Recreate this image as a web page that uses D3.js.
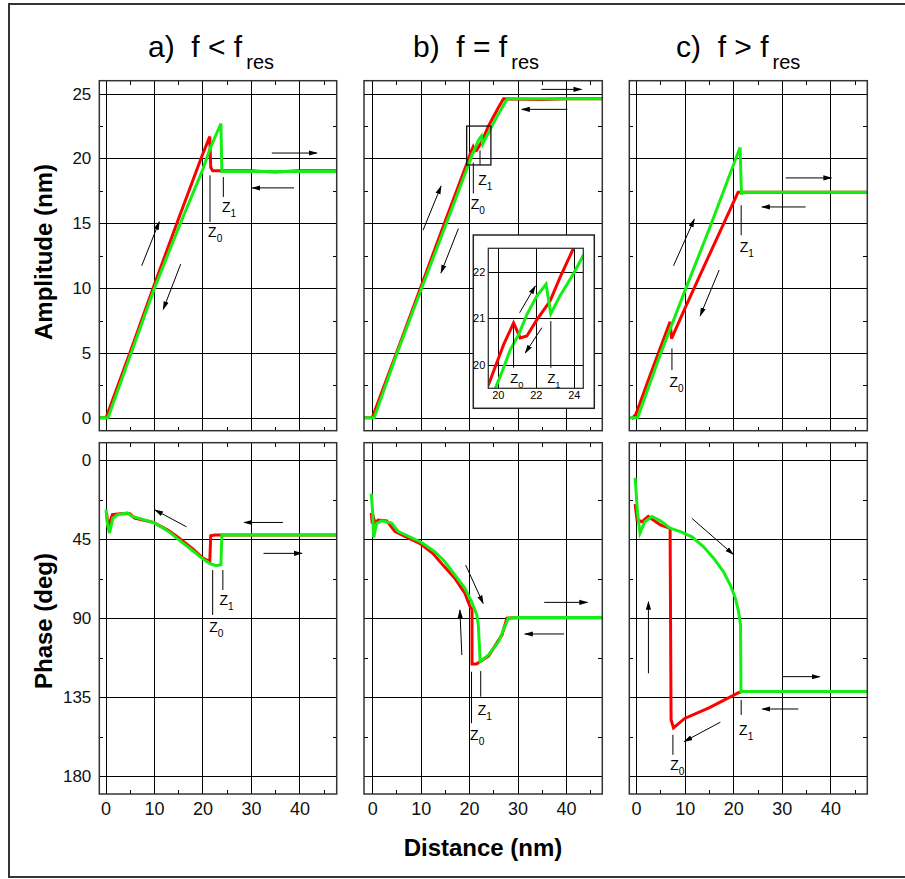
<!DOCTYPE html>
<html><head><meta charset="utf-8">
<script src="https://cdn.jsdelivr.net/npm/d3@7"></script>
<style>
body{margin:0;background:#fff;}
svg{display:block;font-family:"Liberation Sans",Arial,sans-serif;}
</style></head><body>
<svg id="chart" width="905" height="879"></svg>
<script>
// ---------------- data ----------------
const columnLabels = ["a)", "b)", "c)"];
const columnRelations = ["<", "=", ">"];
const xTicks = [0, 10, 20, 30, 40];
const xMinorTicks = [5, 15, 25, 35, 45];
const ampTicks = [0, 5, 10, 15, 20, 25];
const ampMinorTicks = [2.5, 7.5, 12.5, 17.5, 22.5];
const phaseTicks = [0, 45, 90, 135, 180];
const phaseMinorTicks = [22.5, 67.5, 112.5, 157.5];
const xDomains = [[-1.3, 47.7], [-1.7, 47.5], [-1.4, 47.6]];
const ampDomain = [-1, 26];
const phaseDomain = [-10, 190];

// amplitude (nm) vs distance (nm)
const ampRedA = [[-1.3,0],[0.1,0],[5,5.0],[10,10.2],[15,15.3],[20,20.3],[21.5,21.7],[21.7,19.3],[22.1,19.05],[30,19.05],[35,18.95],[40,19.05],[47.7,19.05]];
const ampGreenA = [[-1.3,0],[0.5,0],[5,4.7],[10,9.9],[15,14.6],[20,19.1],[21.5,20.7],[23.8,22.7],[24.0,19.0],[47.7,19.0]];
const ampRedB = [[-1.7,0],[0,0],[5,5.0],[10,10.05],[15,15.1],[19.58,19.65],[20.31,20.44],[20.83,20.9],[21.18,20.58],[21.53,20.62],[22.06,20.97],[22.75,21.37],[23.27,21.87],[23.96,22.48],[25,23.2],[26,23.9],[27.1,24.6],[35,24.55],[40,24.6],[47.5,24.6]];
const ampGreenB = [[-1.7,0],[0.4,0],[5,4.85],[10,9.8],[15,14.7],[19.88,19.51],[20.23,19.86],[20.66,20.33],[21.1,20.65],[21.53,21.08],[22.06,21.48],[22.54,21.73],[22.79,21.1],[23.27,21.48],[23.96,21.94],[24.49,22.34],[26,23.4],[27.9,24.6],[47.5,24.6]];
const ampRedC = [[-0.9,-0.1],[0,0.3],[3,3.4],[7.0,7.4],[7.3,6.1],[10,8.4],[15,12.5],[21.0,17.4],[47.6,17.4]];
const ampGreenC = [[-1.4,0],[0.3,0],[5,4.9],[10,9.75],[15,14.5],[21.4,20.85],[21.7,17.2],[21.8,17.4],[47.6,17.4]];

// phase (deg) vs distance (nm)
const phaseRedA = [[0.2,30],[0.5,38],[0.9,35],[1.4,31],[3,30.5],[5,30.5],[6,33],[10,35.5],[13,40],[15,44],[18,50.5],[20,55.5],[21.5,57.7],[21.7,43],[22.5,42.5],[47.7,42.5]];
const phaseGreenA = [[0.1,28],[0.3,35],[0.8,41.5],[1.5,33],[2.5,31],[4.5,30],[5.5,32],[10,35.5],[13,40.5],[15,45],[18,51.5],[20,56],[21.5,58.8],[22.8,60],[23.8,59.5],[24.0,42.5],[47.7,42.5]];
const phaseRedB = [[-0.2,30],[0,36],[0.3,33],[0.6,36],[1.2,34],[3,34.5],[4.7,40.6],[9.9,47.4],[12.5,53],[14.6,59.7],[17,67],[19.15,75.8],[20.2,83.4],[20.6,84.5],[20.6,116],[21.5,116],[22.3,114.6],[24,111.5],[26.8,99.4],[27.8,89.9],[30,89.6],[47.5,89.6]];
const phaseGreenB = [[-0.2,19],[0.1,30],[0.3,44],[0.9,36],[1.9,34.5],[4,35.8],[5.4,40.6],[10.2,46.8],[12.95,52.1],[15.0,57.8],[17.1,65.4],[19.15,72.9],[20.5,80.5],[21.6,88.1],[21.9,93.8],[22.3,114.6],[24,110.8],[26.1,103.2],[28.1,89.9],[30,89.5],[47.5,89.5]];
const phaseRedC = [[-0.2,25],[0.2,34],[1.2,35],[2.5,32],[5,36.8],[7,38.7],[7.2,147.7],[7.7,152.4],[10,147],[15,141],[21.2,132.2],[22,131.6]];
const phaseGreenC = [[-0.2,10],[0.3,30],[0.8,41.5],[1.8,35],[3.25,32],[5,34.5],[7,38.7],[9.1,40.6],[11.5,43.6],[13.9,49.3],[16.0,55.9],[18.0,63.5],[19.4,71.1],[20.45,78.6],[21.1,86.2],[21.5,93.8],[21.6,131.6],[47.6,131.6]];

// annotation arrows [x1, y1, x2 (head), y2 (head)] in data units
const ampArrows = [
  [[34.3,20.42,43.6,20.42],[38.9,17.73,30.3,17.73],[7.44,11.72,11.07,15.11],[15.5,11.85,11.9,8.36]],
  [[34.9,25.33,43.2,25.33],[40.3,23.79,30.9,23.79],[10.5,14.47,14.2,17.86],[17.8,14.6,14.2,11.18]],
  [[30.8,18.5,40.2,18.5],[34.9,16.26,25.9,16.26],[7.7,11.72,11.98,15.32],[17.1,11.39,13.2,7.87]]
];
const phaseArrows = [
  [[16.7,37.9,10.2,28.3],[36.6,35.4,28.6,35.4],[32.6,53.0,40.5,53.0]],
  [[19.3,59.7,22.9,81.5],[18.5,110.9,18.1,85.3],[35.5,80.9,44.4,80.9],[39.6,98.9,31.5,98.9]],
  [[11.5,33.1,20.0,53.6],[2.54,121.3,2.54,80.6],[30.1,123.2,37.8,123.2],[33.4,141.6,26.0,141.6],[17.36,149.1,9.92,160.1]]
];
// Z markers: [x, y1, y2, labelX, labelY, subscript]
const ampMarkers = [
  [[24.3,18.57,17.03,24.0,15.88,"1"],[21.55,18.7,15.1,21.15,13.95,"0"]],
  [[22.25,20.63,19.48,21.9,17.93,"1"],[20.87,19.68,17.3,20.33,16.09,"0"]],
  [[21.63,16.39,14.08,21.34,12.8,"1"],[7.38,5.35,3.68,6.88,2.4,"0"]]
];
const phaseMarkers = [
  [[24.2,62.5,73.9,23.5,82.4,"1"],[22.1,62.5,88.1,21.4,97.6,"0"]],
  [[22.4,120,134.6,21.77,145,"1"],[20.5,120.4,149.7,20.2,159.2,"0"]],
  [[21.63,136.4,145,21.2,156.3,"1"],[7.58,156.3,167.7,7.02,176.2,"0"]]
];

// inset of panel b
const insetXDomain = [19.5, 24.5];
const insetYDomain = [19.5, 22.5];
const insetXTicks = [20, 22, 24];
const insetYTicks = [20, 21, 22];
const insetArrows = [[21.15,21.12,21.97,21.69],[22.32,20.8,21.45,20.26]];
const insetMarkers = [[20.83,20.87,19.94,20.66,19.61,"0"],[22.79,20.94,19.94,22.61,19.61,"1"]];

// ---------------- drawing ----------------
const ampRed = [ampRedA, ampRedB, ampRedC];
const ampGreen = [ampGreenA, ampGreenB, ampGreenC];
const phaseRed = [phaseRedA, phaseRedB, phaseRedC];
const phaseGreen = [phaseGreenA, phaseGreenB, phaseGreenC];

const RED = "#ff0000", GREEN = "#14ee14";
const colLeft = [99.3, 364, 629.3];
const colWidth = [237.4, 238.3, 238];
const rowTop = [80.7, 442.7];
const rowHeight = [350, 351.3];

const svg = d3.select("#chart");
const defs = svg.append("defs");
defs.append("marker").attr("id","arr").attr("viewBox","0 -4 9 8")
  .attr("refX",8).attr("refY",0).attr("markerWidth",9).attr("markerHeight",8)
  .attr("markerUnits","userSpaceOnUse").attr("orient","auto")
  .append("path").attr("d","M0,-2.6L9,0L0,2.6Z").attr("fill","#000");

// outer border
svg.append("rect").attr("x",9).attr("y",4).attr("width",1000).attr("height",873)
  .attr("fill","none").attr("stroke","#333").attr("stroke-width",2);

function styleAxis(g, color, width) {
  g.select(".domain").remove();
  g.selectAll(".tick line").attr("stroke", color).attr("stroke-width", width).attr("shape-rendering","crispEdges");
}

function drawMarker(g, x, y, m, fs) {
  g.append("line").attr("x1",x(m[0])).attr("x2",x(m[0])).attr("y1",y(m[1])).attr("y2",y(m[2]))
    .attr("stroke","#000").attr("stroke-width",1);
  const t = g.append("text").attr("x",x(m[3])).attr("y",y(m[4])).attr("font-size",fs).attr("fill","#000").text("Z");
  t.append("tspan").attr("dy",fs*0.35).attr("font-size",fs*0.72).text(m[5]);
}
function drawArrow(g, x, y, a) {
  g.append("line").attr("x1",x(a[0])).attr("y1",y(a[1])).attr("x2",x(a[2])).attr("y2",y(a[3]))
    .attr("stroke","#000").attr("stroke-width",1).attr("marker-end","url(#arr)");
}

let clipId = 0;
function panel(c, r) {
  const left = colLeft[c], width = colWidth[c], top = rowTop[r], height = rowHeight[r];
  const x = d3.scaleLinear().domain(xDomains[c]).range([left, left + width]);
  const y = r === 0
    ? d3.scaleLinear().domain(ampDomain).range([top + height, top])
    : d3.scaleLinear().domain(phaseDomain).range([top, top + height]);
  const yMajor = r === 0 ? ampTicks : phaseTicks;
  const yMinor = r === 0 ? ampMinorTicks : phaseMinorTicks;
  const g = svg.append("g");

  // grid
  g.append("g").attr("transform",`translate(0,${top+height})`)
    .call(d3.axisBottom(x).tickValues(xTicks).tickSize(-height).tickFormat(""))
    .call(s => styleAxis(s, "#000", 1));
  g.append("g").attr("transform",`translate(${left},0)`)
    .call(d3.axisLeft(y).tickValues(yMajor).tickSize(-width).tickFormat(""))
    .call(s => styleAxis(s, "#000", 1));
  // minor ticks (inward)
  g.append("g").attr("transform",`translate(0,${top+height})`)
    .call(d3.axisBottom(x).tickValues(xMinorTicks).tickSize(-4).tickFormat(""))
    .call(s => styleAxis(s, "#000", 1));
  g.append("g").attr("transform",`translate(0,${top})`)
    .call(d3.axisTop(x).tickValues(xMinorTicks).tickSize(-4).tickFormat(""))
    .call(s => styleAxis(s, "#000", 1));
  g.append("g").attr("transform",`translate(${left},0)`)
    .call(d3.axisLeft(y).tickValues(yMinor).tickSize(-4).tickFormat(""))
    .call(s => styleAxis(s, "#000", 1));
  g.append("g").attr("transform",`translate(${left+width},0)`)
    .call(d3.axisRight(y).tickValues(yMinor).tickSize(-4).tickFormat(""))
    .call(s => styleAxis(s, "#000", 1));

  // labels
  if (r === 1) {
    const ax = g.append("g").attr("transform",`translate(0,${top+height})`)
      .call(d3.axisBottom(x).tickValues(xTicks).tickSize(0).tickPadding(8));
    ax.select(".domain").remove();
    ax.selectAll("text").attr("font-size",18).attr("font-family","Liberation Sans, Arial, sans-serif").attr("fill","#111");
  }
  if (c === 0) {
    const ay = g.append("g").attr("transform",`translate(${left},0)`)
      .call(d3.axisLeft(y).tickValues(yMajor).tickSize(0).tickPadding(8));
    ay.select(".domain").remove();
    ay.selectAll("text").attr("font-size",17).attr("font-family","Liberation Sans, Arial, sans-serif").attr("fill","#111");
  }

  // curves
  const id = "clip" + (clipId++);
  defs.append("clipPath").attr("id", id).append("rect")
    .attr("x",left).attr("y",top).attr("width",width).attr("height",height);
  const line = d3.line().x(d => x(d[0])).y(d => y(d[1]));
  const reds = r === 0 ? ampRed[c] : phaseRed[c];
  const greens = r === 0 ? ampGreen[c] : phaseGreen[c];
  const cg = g.append("g").attr("clip-path",`url(#${id})`);
  cg.append("path").attr("d", line(reds)).attr("fill","none").attr("stroke",RED).attr("stroke-width",3);
  cg.append("path").attr("d", line(greens)).attr("fill","none").attr("stroke",GREEN).attr("stroke-width",3);

  // annotations
  (r === 0 ? ampArrows[c] : phaseArrows[c]).forEach(a => drawArrow(g, x, y, a));
  (r === 0 ? ampMarkers[c] : phaseMarkers[c]).forEach(m => drawMarker(g, x, y, m, 14));

  // frame
  g.append("rect").attr("x",left).attr("y",top).attr("width",width).attr("height",height)
    .attr("fill","none").attr("stroke","#333").attr("stroke-width",1.5);

  return {x, y, g};
}

const panels = [];
for (let r = 0; r < 2; r++) for (let c = 0; c < 3; c++) panels.push(panel(c, r));

// inset in panel b (amplitude)
(function () {
  const pb = panels[1];
  pb.g.append("rect")
    .attr("x", pb.x(insetXDomain[0])).attr("y", pb.y(insetYDomain[1]))
    .attr("width", pb.x(insetXDomain[1]) - pb.x(insetXDomain[0]))
    .attr("height", pb.y(insetYDomain[0]) - pb.y(insetYDomain[1]))
    .attr("fill","none").attr("stroke","#111").attr("stroke-width",1.3);
  const g = svg.append("g");
  g.append("rect").attr("x",473.3).attr("y",235).attr("width",121).attr("height",173.3)
    .attr("fill","#fff").attr("stroke","#222").attr("stroke-width",1.5);
  const L = 488.3, T = 248.3, W = 95, H = 140;
  const x = d3.scaleLinear().domain(insetXDomain).range([L, L + W]);
  const y = d3.scaleLinear().domain(insetYDomain).range([T + H, T]);
  g.append("g").attr("transform",`translate(0,${T+H})`)
    .call(d3.axisBottom(x).tickValues(insetXTicks).tickSize(-H).tickFormat(""))
    .call(s => styleAxis(s, "#000", 1));
  g.append("g").attr("transform",`translate(${L},0)`)
    .call(d3.axisLeft(y).tickValues(insetYTicks).tickSize(-W).tickFormat(""))
    .call(s => styleAxis(s, "#000", 1));
  const ax = g.append("g").attr("transform",`translate(0,${T+H})`)
    .call(d3.axisBottom(x).tickValues(insetXTicks).tickSize(0).tickPadding(3).tickFormat(d3.format("d")));
  ax.select(".domain").remove();
  ax.selectAll("text").attr("font-size",11).attr("font-family","Liberation Sans, Arial, sans-serif");
  const ay = g.append("g").attr("transform",`translate(${L},0)`)
    .call(d3.axisLeft(y).tickValues(insetYTicks).tickSize(0).tickPadding(3).tickFormat(d3.format("d")));
  ay.select(".domain").remove();
  ay.selectAll("text").attr("font-size",11).attr("font-family","Liberation Sans, Arial, sans-serif");
  defs.append("clipPath").attr("id","clipInset").append("rect").attr("x",L).attr("y",T).attr("width",W).attr("height",H);
  const line = d3.line().x(d => x(d[0])).y(d => y(d[1]));
  const cg = g.append("g").attr("clip-path","url(#clipInset)");
  cg.append("path").attr("d", line(ampRedB)).attr("fill","none").attr("stroke",RED).attr("stroke-width",3);
  cg.append("path").attr("d", line(ampGreenB)).attr("fill","none").attr("stroke",GREEN).attr("stroke-width",3);
  insetArrows.forEach(a => drawArrow(g, x, y, a));
  insetMarkers.forEach(m => drawMarker(g, x, y, m, 13));
  g.append("rect").attr("x",L).attr("y",T).attr("width",W).attr("height",H)
    .attr("fill","none").attr("stroke","#333").attr("stroke-width",1.3);
})();

// titles
const titleX = [148, 413, 676];
columnLabels.forEach((lab, i) => {
  const t = svg.append("text").attr("x", titleX[i]).attr("y", 57)
    .attr("font-size", 30).attr("fill","#000").style("white-space","pre")
    .text(`${lab}  f ${columnRelations[i]} f`);
  t.append("tspan").attr("dx", 4).attr("dy", 12).attr("font-size", 20).text("res");
});

// axis titles
svg.append("text").attr("transform","translate(52,252) rotate(-90)").attr("text-anchor","middle")
  .attr("font-size",24).attr("font-weight","bold").text("Amplitude (nm)");
svg.append("text").attr("transform","translate(52,621) rotate(-90)").attr("text-anchor","middle")
  .attr("font-size",24).attr("font-weight","bold").text("Phase (deg)");
svg.append("text").attr("x",483).attr("y",856).attr("text-anchor","middle")
  .attr("font-size",24).attr("font-weight","bold").text("Distance (nm)");
</script>
</body></html>
